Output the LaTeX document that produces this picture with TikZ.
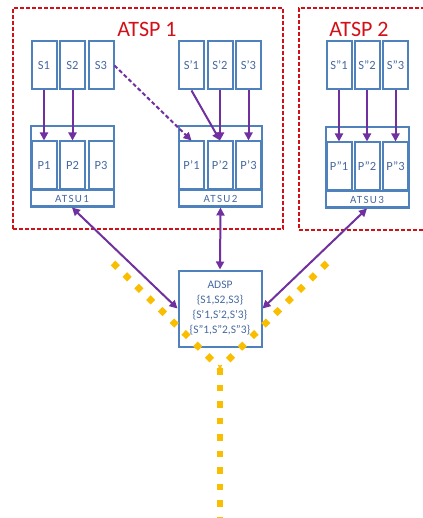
\documentclass[tikz,border=0pt]{standalone}
\usepackage{fontspec}
\setmainfont{Carlito}
\usetikzlibrary{arrows.meta, shapes}

\definecolor{boxblue}{RGB}{79,129,189}
\definecolor{txtblue}{RGB}{70,105,160}
\definecolor{atspred}{RGB}{210,16,24}
\definecolor{arrpurple}{RGB}{112,48,160}
\definecolor{linkgold}{RGB}{250,190,0}

\tikzset{
	svc/.style={draw=boxblue, line width=2pt, fill=white, text=txtblue, inner sep=0pt,
		minimum width=25pt, minimum height=48pt, font=\fontsize{12.5}{14}\selectfont},
	unit/.style={draw=boxblue, line width=2pt, inner sep=0pt,
		minimum width=83pt, minimum height=80pt},
	unitlbl/.style={draw=boxblue, line width=2pt, inner sep=0pt, text=txtblue,
		minimum width=83pt, minimum height=17pt,
		font=\fontsize{11}{12}\selectfont\addfontfeature{LetterSpace=12}},
	provider/.style={draw=atspred, line width=2pt, dash pattern=on 4pt off 2pt, inner sep=0pt},
	provlbl/.style={text=atspred, font=\fontsize{22}{26}\selectfont},
	flow/.style={draw=arrpurple, line width=2pt, -{Triangle[length=8pt,width=8pt]}},
	link/.style={draw=arrpurple, line width=2pt,
		{Triangle[length=8pt,width=8pt]}-{Triangle[length=8pt,width=8pt]}},
	wire/.style={draw=linkgold, line width=6.5pt, dash pattern=on 6.5pt off 10pt},
}

\begin{document}
\begin{tikzpicture}[x=1pt, y=-1pt]
		\useasboundingbox (0,0) rectangle (422,518);

		% providers
		\node[provider, minimum width=270pt, minimum height=221pt] (atsp1) at (148,118.5) {};
		\node[provider, minimum width=141pt, minimum height=222pt] (atsp2) at (369.5,119) {};
		\node[provlbl] (atsp1lbl) at (147,29) {ATSP 1};
		\node[provlbl] (atsp2lbl) at (359,29) {ATSP 2};

		% services
		\node[svc] (sa1) at (44,65.5) {S1};
		\node[svc] (sa2) at (72.5,65.5) {S2};
		\node[svc] (sa3) at (101,65.5) {S3};
		\node[svc] (sb1) at (191.5,65.5) {S’1};
		\node[svc] (sb2) at (220,65.5) {S’2};
		\node[svc] (sb3) at (248.5,65.5) {S’3};
		\node[svc] (sc1) at (339,65.5) {S”1};
		\node[svc] (sc2) at (367,65.5) {S”2};
		\node[svc] (sc3) at (395.5,65.5) {S”3};

		% units
		\node[unit] (atsu1) at (72,166.5) {};
		\node[unit] (atsu2) at (220.5,166.5) {};
		\node[unit] (atsu3) at (367,167.5) {};
		\node[unitlbl] (atsu1lbl) at (72,198.5) {ATSU1};
		\node[unitlbl] (atsu2lbl) at (220.5,198.5) {ATSU2};
		\node[unitlbl] (atsu3lbl) at (367,199.5) {ATSU3};

		\node[svc] (pa1) at (44,165.5) {P1};
		\node[svc] (pa2) at (72.5,165.5) {P2};
		\node[svc] (pa3) at (101,165.5) {P3};
		\node[svc] (pb1) at (191.5,165.5) {P’1};
		\node[svc] (pb2) at (220,165.5) {P’2};
		\node[svc] (pb3) at (248.5,165.5) {P’3};
		\node[svc] (pc1) at (339,166.5) {P”1};
		\node[svc] (pc2) at (367,166.5) {P”2};
		\node[svc] (pc3) at (395.5,166.5) {P”3};

		% directory
		\node[svc, minimum width=83pt, minimum height=76pt, align=center,
		font=\fontsize{11.5}{15}\selectfont,
		] (adsp) at (220,308.5) {ADSP\\\{S1,S2,S3\}\\\{S’1,S’2,S’3\}\\\{S”1,S”2,S”3\}};

		\draw[flow] (sa1) -- (pa1);
		\draw[flow] (sa2) -- (pa2);
		\draw[flow, dash pattern=on 4pt off 2.5pt] (sa3.east) -- (pb1.north);
		\draw[flow] (sb1.south) -- (pb2.north);
		\draw[flow] (sb2) -- (pb2);
		\draw[flow] (sb3) -- (pb3);
		\draw[flow] (sc1) -- (pc1);
		\draw[flow] (sc2) -- (pc2);
		\draw[flow] (sc3) -- (pc3);

		\draw[link] (atsu1.south) -- (adsp.west);
		\draw[link] (atsu2.south) -- (adsp.north);
		\draw[link] (atsu3.south) -- (adsp.east);

		% backbone
		\coordinate (wl) at (113,263);
		\coordinate (wr) at (327,263);
		\coordinate (wj) at (220,368);
		\coordinate (wb) at (220,530);
		\draw[wire] (wl) -- (wj);
		\draw[wire] (wr) -- (wj);
		\draw[wire] (wj) -- (wb);
\end{tikzpicture}
\end{document}
